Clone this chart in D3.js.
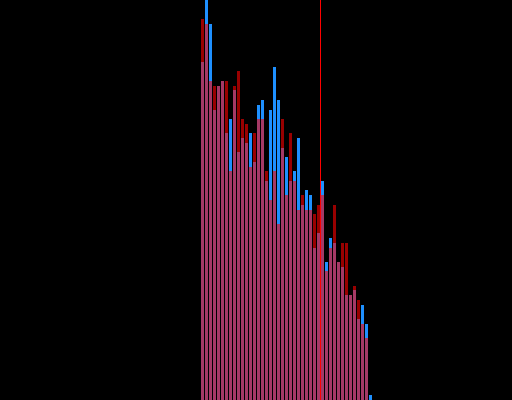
<!DOCTYPE html>
<html>
<head>
<meta charset="utf-8">
<script src="https://cdn.jsdelivr.net/npm/d3@7"></script>
<style>
  html, body { margin: 0; padding: 0; background: #000; }
  svg { display: block; }
</style>
</head>
<body>
<script>
//histogram bins (left edge of each bin)
var bins = d3.range(0, 43);

//counts per bin for the two series
var blueCounts = [71, 86, 79, 61, 66, 67, 56, 59, 65, 52,
                  55, 54, 56, 50, 62, 63, 46, 61, 70, 63,
                  53, 51, 46, 48, 55, 41, 44, 43, 32, 35,
                  46, 29, 34, 33, 29, 28, 22, 22, 23, 17,
                  20, 16, 1];
var redCounts  = [80, 79, 67, 66, 66, 67, 67, 48, 66, 69,
                  59, 58, 49, 56, 59, 59, 48, 42, 48, 37,
                  59, 43, 56, 46, 40, 43, 40, 40, 39, 41,
                  43, 27, 32, 41, 29, 33, 33, 22, 24, 21,
                  16, 13, 0];

//position of the vertical marker line
var meanValue = 29.875;

window.onload = drawChart();

function drawChart(){

    //frame dimensions
    var width = 512,
        height = 400;

    var svg = d3.select('body')
        .append('svg')
        .attr('width', width)
        .attr('height', height);

    svg.append('rect')
        .attr('width', width)
        .attr('height', height)
        .attr('fill', '#000');

    var x = d3.scaleLinear()
        .domain([-50.25, 77.75])
        .range([0, width]);

    var y = d3.scaleLinear()
        .domain([0, 84])
        .range([height, 0]);

    var barW = x(0.75) - x(0);

    //blue series underneath
    svg.selectAll('.blue')
        .data(bins)
        .enter()
        .append('rect')
        .attr('class', 'blue')
        .attr('x', function(d){ return x(d); })
        .attr('y', function(d, i){ return y(blueCounts[i]); })
        .attr('width', barW)
        .attr('height', function(d, i){ return height - y(blueCounts[i]); })
        .attr('fill', '#1e90ff')
        .attr('shape-rendering', 'crispEdges');

    //translucent red series on top
    svg.selectAll('.red')
        .data(bins)
        .enter()
        .append('rect')
        .attr('class', 'red')
        .attr('x', function(d){ return x(d); })
        .attr('y', function(d, i){ return y(redCounts[i]); })
        .attr('width', barW)
        .attr('height', function(d, i){ return height - y(redCounts[i]); })
        .attr('fill', '#ff0000')
        .attr('fill-opacity', 0.6)
        .attr('shape-rendering', 'crispEdges');

    //vertical marker
    svg.append('line')
        .attr('x1', x(meanValue))
        .attr('x2', x(meanValue))
        .attr('y1', 0)
        .attr('y2', height)
        .attr('stroke', '#ff0000')
        .attr('stroke-width', 1);
};
</script>
</body>
</html>
